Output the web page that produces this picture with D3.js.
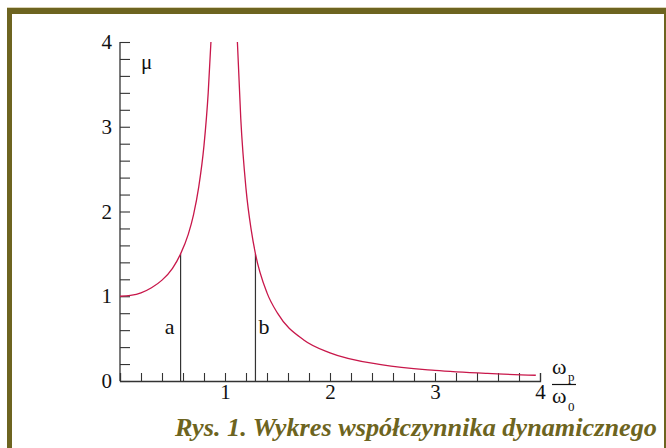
<!DOCTYPE html>
<html>
<head>
<meta charset="utf-8">
<script src="https://cdn.jsdelivr.net/npm/d3@7"></script>
<style>
  body { margin: 0; background: #fff; }
  svg { display: block; }
</style>
</head>
<body>
<script>
// curve values: x = wp/w0, mu = dynamic coefficient
var leftX  = [0, 0.1, 0.2, 0.3, 0.4, 0.5, 0.577, 0.65, 0.7, 0.75, 0.8, 0.84, 0.866];
var leftMu = [1.0, 1.01, 1.04, 1.10, 1.19, 1.33, 1.5, 1.73, 1.96, 2.29, 2.78, 3.4, 4.0];
var rightX  = [1.118, 1.15, 1.2, 1.25, 1.29, 1.4, 1.5, 1.75, 2, 2.5, 3, 3.5, 3.96];
var rightMu = [4.0, 3.10, 2.27, 1.78, 1.5, 1.04, 0.8, 0.485, 0.333, 0.19, 0.125, 0.089, 0.068];
// marked points a and b
var markX = [0.577, 1.29];
var markMu = [1.5, 1.5];
var markLabels = ["a", "b"];
var yTickLabels = ["0", "1", "2", "3", "4"];
var xTickLabels = ["1", "2", "3", "4"];
var caption = "Rys. 1. Wykres współczynnika dynamicznego";

var W = 666, H = 448;
var olive = "#6d6420", red = "#c8174a", ink = "#333";
var serif = "'Liberation Serif', 'DejaVu Serif', serif";

var svg = d3.select("body").append("svg")
  .attr("width", W)
  .attr("height", H);

// frame
svg.append("rect").attr("x", 7).attr("y", 7).attr("width", W - 7).attr("height", 1).attr("fill", "#d9d2b4");
svg.append("rect").attr("x", 7).attr("y", 8).attr("width", W - 7).attr("height", 6).attr("fill", olive);
svg.append("rect").attr("x", 7).attr("y", 8).attr("width", 5).attr("height", H - 8).attr("fill", olive);
svg.append("rect").attr("x", 664).attr("y", 8).attr("width", 2).attr("height", H - 8).attr("fill", olive);

var x = d3.scaleLinear().domain([0, 4]).range([120, 540]);
var y = d3.scaleLinear().domain([0, 4]).range([381, 42]);

var fineTicks = d3.range(0, 4.01, 0.2).map(function(d) { return Math.round(d * 10) / 10; });

// y axis: ticks pointing inward
var yAxis = svg.append("g")
  .attr("transform", "translate(" + x(0) + ",0)")
  .call(d3.axisLeft(y).tickValues(fineTicks).tickSize(-10).tickPadding(8)
    .tickFormat(function(d) { return yTickLabels.indexOf(String(d)) >= 0 ? d : ""; }));

// x axis: ticks pointing upward
var xAxis = svg.append("g")
  .attr("transform", "translate(0," + y(0) + ")")
  .call(d3.axisBottom(x).tickValues(fineTicks.filter(function(d) { return d > 0; })).tickSize(-8).tickPadding(3)
    .tickFormat(function(d) { return xTickLabels.indexOf(String(d)) >= 0 ? d : ""; }));

[yAxis, xAxis].forEach(function(g) {
  g.select(".domain").attr("stroke", ink).attr("stroke-width", 1.3);
  g.selectAll(".tick line").attr("stroke", ink).attr("stroke-width", 1.1);
  g.selectAll("text")
    .attr("fill", "#111")
    .style("font-family", serif)
    .style("font-size", "21px");
});
yAxis.selectAll(".domain").attr("d", "M0," + y(0) + "V" + y(4));

// vertical lines a, b
svg.selectAll(".mark")
  .data(markX)
  .enter().append("line")
    .attr("x1", function(d) { return x(d); })
    .attr("x2", function(d) { return x(d); })
    .attr("y1", y(0))
    .attr("y2", function(d, i) { return y(markMu[i]); })
    .attr("stroke", ink)
    .attr("stroke-width", 1.2);

svg.selectAll(".markLabel")
  .data(markLabels)
  .enter().append("text")
    .attr("x", function(d, i) { return i == 0 ? x(markX[i]) - 6 : x(markX[i]) + 3; })
    .attr("y", 334)
    .attr("text-anchor", function(d, i) { return i == 0 ? "end" : "start"; })
    .style("font-family", serif)
    .style("font-size", "22px")
    .attr("fill", "#111")
    .text(function(d) { return d; });

// curve
var line = d3.line()
  .x(function(d) { return x(d[0]); })
  .y(function(d) { return y(d[1]); })
  .curve(d3.curveMonotoneX);

[[leftX, leftMu], [rightX, rightMu]].forEach(function(s) {
  svg.append("path")
    .datum(s[0].map(function(v, i) { return [v, s[1][i]]; }))
    .attr("d", line)
    .attr("fill", "none")
    .attr("stroke", red)
    .attr("stroke-width", 1.3);
});

// axis titles
svg.append("text")
  .attr("x", 141).attr("y", 69)
  .style("font-family", serif).style("font-size", "21px").attr("fill", "#111")
  .text("μ");

var frac = svg.append("g").style("font-family", serif).attr("fill", "#111");
frac.append("text").attr("x", 552).attr("y", 374).style("font-size", "22px").text("ω");
frac.append("text").attr("x", 568).attr("y", 381).style("font-size", "13px").text("p");
frac.append("line").attr("x1", 552).attr("x2", 576).attr("y1", 384.5).attr("y2", 384.5)
  .attr("stroke", "#111").attr("stroke-width", 1.2);
frac.append("text").attr("x", 552).attr("y", 403).style("font-size", "22px").text("ω");
frac.append("text").attr("x", 568).attr("y", 411).style("font-size", "13px").text("0");

// caption
svg.append("text")
  .attr("x", 657).attr("y", 436)
  .attr("text-anchor", "end")
  .attr("textLength", 482)
  .attr("lengthAdjust", "spacingAndGlyphs")
  .style("font-family", serif)
  .style("font-weight", "bold")
  .style("font-style", "italic")
  .style("font-size", "25px")
  .attr("fill", olive)
  .text(caption);
</script>
</body>
</html>
